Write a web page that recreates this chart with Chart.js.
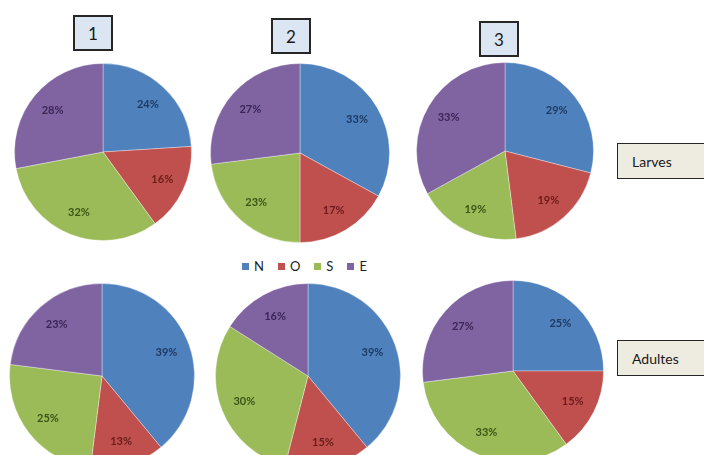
<!DOCTYPE html>
<html>
<head>
<meta charset="utf-8">
<script src="https://cdn.jsdelivr.net/npm/chart.js@4.4.1/dist/chart.umd.min.js"></script>
<style>
  html, body { margin: 0; padding: 0; background: #fff; }
  body { width: 704px; height: 455px; overflow: hidden; position: relative; font-family: Lato, "Open Sans", sans-serif; }
  .pie { position: absolute; }
  .tag { position: absolute; box-sizing: border-box; border: 2px solid #262626; display: flex; align-items: center; justify-content: center; color: #1a1a1a; }
  .num { width: 40px; height: 36px; background: #dce6f2; font-size: 17px; }
  .row { height: 36px; width: 100px; background: #eeece1; font-size: 14px; justify-content: flex-start; padding-left: 14px; border-width: 1.5px; }
  #legend { position: absolute; left: 242px; top: 258px; display: flex; font-size: 13px; color: #222; }
  #legend span.item { display: flex; align-items: center; margin-right: 14px; }
  #legend i { display: inline-block; width: 7px; height: 7px; margin-right: 5px; }
</style>
</head>
<body>
<div class="tag num" style="left:73px;top:15px">1</div>
<div class="tag num" style="left:271px;top:18px">2</div>
<div class="tag num" style="left:479px;top:21px">3</div>
<div class="tag row" style="left:617px;top:143px">Larves</div>
<div class="tag row" style="left:617px;top:340px">Adultes</div>
<div id="legend"></div>

<div class="pie" style="left:14px;top:63px;width:178px;height:178px"><canvas id="p1"></canvas></div>
<div class="pie" style="left:210px;top:63px;width:180px;height:180px"><canvas id="p2"></canvas></div>
<div class="pie" style="left:416px;top:62px;width:178px;height:178px"><canvas id="p3"></canvas></div>
<div class="pie" style="left:9px;top:283px;width:186px;height:186px"><canvas id="p4"></canvas></div>
<div class="pie" style="left:215px;top:283px;width:186px;height:186px"><canvas id="p5"></canvas></div>
<div class="pie" style="left:422px;top:280px;width:182px;height:182px"><canvas id="p6"></canvas></div>

<script>
// orientation: Nord, Ouest, Sud, Est
const directions = ["N", "O", "S", "E"];
const larves1 = [24, 16, 32, 28];
const larves2 = [33, 17, 23, 27];
const larves3 = [29, 19, 19, 33];
const adultes1 = [39, 13, 25, 23];
const adultes2 = [39, 15, 30, 16];
const adultes3 = [25, 15, 33, 27];

const fills = ["#4f81bd", "#c0504d", "#9bbb59", "#8064a2"];
const inkColors = ["#1d3a62", "#6a1c1a", "#3a5516", "#3a2557"];

// percentage labels inside each slice
const sliceLabels = {
  id: "sliceLabels",
  afterDatasetsDraw(chart) {
    const ctx = chart.ctx;
    const meta = chart.getDatasetMeta(0);
    const values = chart.data.datasets[0].data;
    ctx.save();
    ctx.font = "bold 11px Lato, 'Open Sans', sans-serif";
    ctx.textAlign = "center";
    ctx.textBaseline = "middle";
    meta.data.forEach(function (arc, i) {
      const p = arc.getProps(["x", "y", "startAngle", "endAngle", "outerRadius"], true);
      const mid = (p.startAngle + p.endAngle) / 2;
      const r = p.outerRadius * 0.74;
      ctx.fillStyle = inkColors[i];
      ctx.fillText(values[i] + "%", p.x + Math.cos(mid) * r, p.y + Math.sin(mid) * r);
    });
    ctx.restore();
  },
};

function makePie(id, values) {
  new Chart(document.getElementById(id), {
    type: "pie",
    data: {
      labels: directions,
      datasets: [{ data: values, backgroundColor: fills, borderColor: "rgba(255,255,255,0.35)", borderWidth: 1 }],
    },
    options: {
      responsive: true,
      maintainAspectRatio: false,
      animation: false,
      layout: { padding: 0 },
      plugins: { legend: { display: false }, tooltip: { enabled: false } },
    },
    plugins: [sliceLabels],
  });
}

makePie("p1", larves1);
makePie("p2", larves2);
makePie("p3", larves3);
makePie("p4", adultes1);
makePie("p5", adultes2);
makePie("p6", adultes3);

const legend = document.getElementById("legend");
directions.forEach(function (d, i) {
  const item = document.createElement("span");
  item.className = "item";
  item.innerHTML = '<i style="background:' + fills[i] + '"></i>' + d;
  legend.appendChild(item);
});
</script>
</body>
</html>
